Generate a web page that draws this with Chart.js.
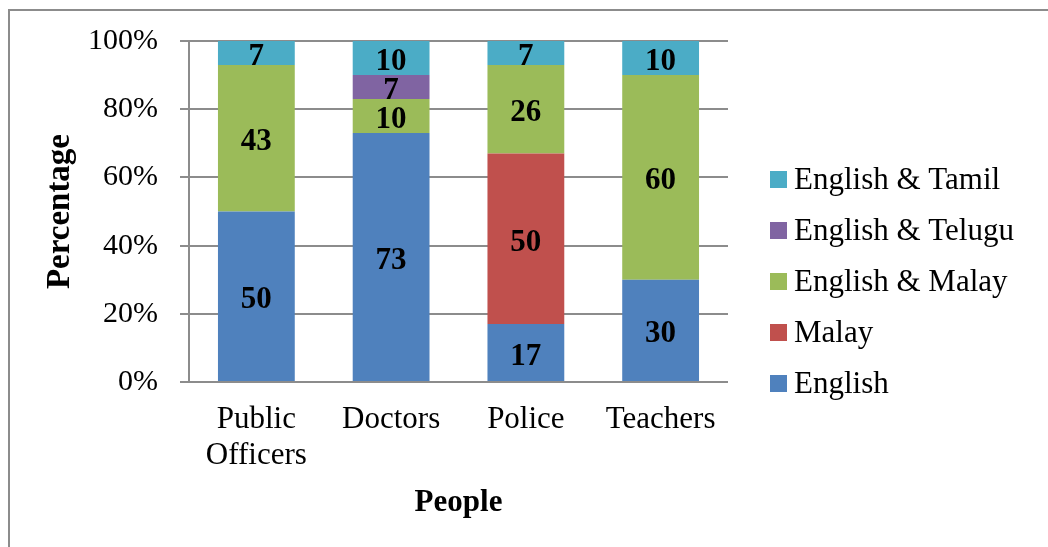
<!DOCTYPE html>
<html>
<head>
<meta charset="utf-8">
<script src="https://cdn.jsdelivr.net/npm/chart.js@4"></script>
<style>
  html, body { margin: 0; padding: 0; background: #ffffff; }
  #wrap { position: relative; width: 1048px; height: 547px; overflow: hidden; }
  #frame { position: absolute; left: 8px; top: 9px; width: 1200px; height: 700px;
           border-left: 2px solid #8c8c8c; border-top: 2px solid #8c8c8c; }
  canvas { position: absolute; left: 0; top: 0; }
</style>
</head>
<body>
<div id="wrap">
  <div id="frame"></div>
  <canvas id="c" width="1048" height="547"></canvas>
</div>
<script>
const categories = [['Public', 'Officers'], 'Doctors', 'Police', 'Teachers'];
const english        = [50, 73, 17, 30];
const malay          = [0, 0, 50, 0];
const englishMalay   = [43, 10, 26, 60];
const englishTelugu  = [0, 7, 0, 0];
const englishTamil   = [7, 10, 7, 10];
const yTicks = [0, 20, 40, 60, 80, 100];

const FONT = "'Liberation Serif', 'Times New Roman', serif";

const dataLabels = {
  id: 'dataLabels',
  afterDatasetsDraw(chart) {
    const ctx = chart.ctx;
    ctx.save();
    ctx.font = 'bold 31px ' + FONT;
    ctx.fillStyle = '#000000';
    ctx.textAlign = 'center';
    ctx.textBaseline = 'middle';
    chart.data.datasets.forEach((ds, di) => {
      const meta = chart.getDatasetMeta(di);
      meta.data.forEach((bar, i) => {
        const v = ds.data[i];
        if (!v) return;
        const p = bar.getCenterPoint();
        ctx.fillText(String(v), p.x, p.y + 4);
      });
    });
    ctx.restore();
  }
};

// Legend drawn beside the plot (reversed dataset order, as in the reference)
const sideLegend = {
  id: 'sideLegend',
  afterDraw(chart) {
    const ctx = chart.ctx;
    const area = chart.chartArea;
    const boxX = area.right + 42, box = 17, textX = boxX + 24, step = 51;
    const items = chart.data.datasets.map(d => ({ text: d.label, color: d.backgroundColor })).reverse();
    const y0 = (area.top + area.bottom) / 2 + 70 - step * (items.length - 1) / 2;
    ctx.save();
    ctx.font = '31px ' + FONT;
    ctx.textAlign = 'left';
    ctx.textBaseline = 'middle';
    items.forEach((it, i) => {
      const cy = y0 + i * step;
      ctx.fillStyle = it.color;
      ctx.fillRect(boxX, Math.round(cy - box / 2), box, box);
      ctx.fillStyle = '#000000';
      ctx.fillText(it.text, textX, cy + 1);
    });
    ctx.restore();
  }
};

new Chart(document.getElementById('c'), {
  type: 'bar',
  data: {
    labels: categories,
    datasets: [
      { label: 'English', data: english, backgroundColor: '#4F81BD' },
      { label: 'Malay', data: malay, backgroundColor: '#C0504D' },
      { label: 'English & Malay', data: englishMalay, backgroundColor: '#9BBB59' },
      { label: 'English & Telugu', data: englishTelugu, backgroundColor: '#8064A2' },
      { label: 'English & Tamil', data: englishTamil, backgroundColor: '#4BACC6' }
    ]
  },
  options: {
    responsive: false,
    animation: false,
    devicePixelRatio: 1,
    layout: { padding: { left: 38, top: 41, bottom: 24, right: 320 } },
    datasets: { bar: { barPercentage: 0.57, categoryPercentage: 1.0, borderWidth: 0 } },
    plugins: {
      legend: { display: false },
      tooltip: { enabled: false }
    },
    scales: {
      x: {
        stacked: true,
        grid: { display: false, drawTicks: false },
        border: { display: false },
        ticks: {
          color: '#000000', padding: 20, maxRotation: 0, minRotation: 0, autoSkip: false,
          font: { family: FONT, size: 31, lineHeight: 1.15 }
        },
        title: {
          display: true, text: 'People', color: '#000000',
          font: { family: FONT, size: 31, weight: 'bold', lineHeight: 1.2 },
          padding: { top: -8.6, bottom: 1 }
        }
      },
      y: {
        stacked: true,
        min: 0, max: 100,
        afterBuildTicks: (s) => { s.ticks = yTicks.map(v => ({ value: v })); },
        grid: { color: '#8c8c8c', lineWidth: 2, tickLength: 9, drawTicks: true },
        border: { display: true, color: '#8c8c8c', width: 2 },
        ticks: {
          color: '#000000', padding: 22,
          font: { family: FONT, size: 30, lineHeight: 1.2 },
          callback: (v) => v + '%'
        },
        title: {
          display: true, text: 'Percentage', color: '#000000',
          font: { family: FONT, size: 33, weight: 'bold', lineHeight: 1.2 },
          padding: { top: 3, bottom: -14.6 }
        }
      }
    }
  },
  plugins: [dataLabels, sideLegend]
});
</script>
</body>
</html>
